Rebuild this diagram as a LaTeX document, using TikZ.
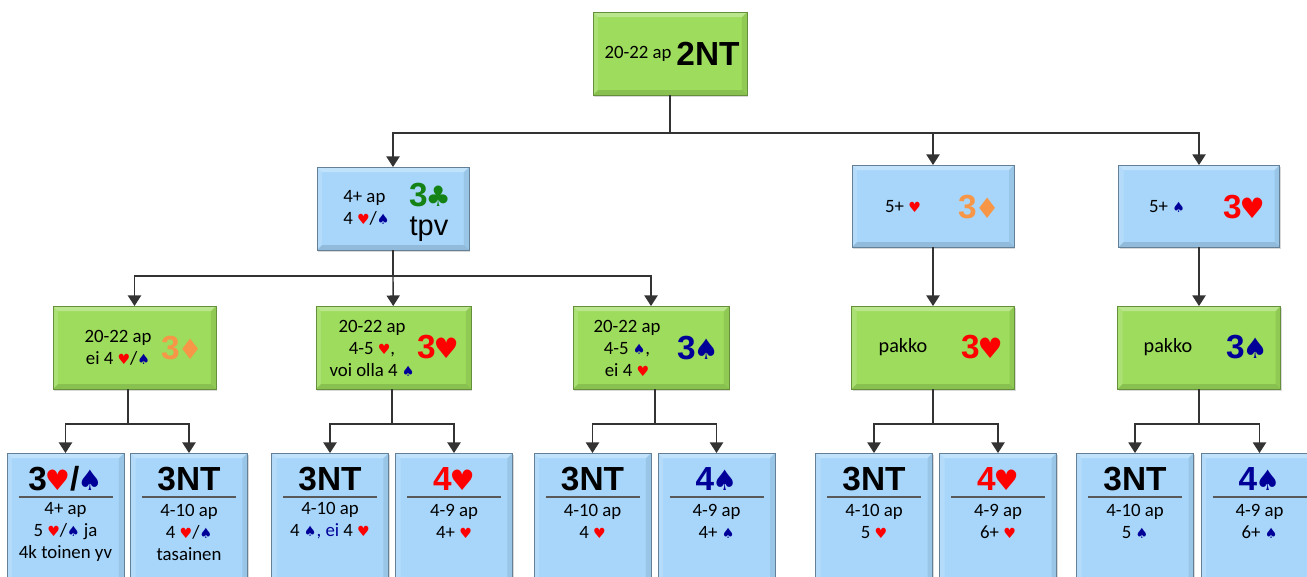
\documentclass[tikz,border=0pt]{standalone}
\usepackage{fontspec}
\setmainfont{Carlito}
\newfontfamily\bidfont{Liberation Sans}
\newfontfamily\suitfont{DejaVu Sans}
\usetikzlibrary{positioning}
\usetikzlibrary{calc}
\usetikzlibrary{shadows}
\usetikzlibrary{arrows.meta}

\definecolor{grn}{RGB}{157,220,92}
\definecolor{blu}{RGB}{167,214,250}
\definecolor{hcol}{RGB}{255,0,0}
\definecolor{scol}{RGB}{0,0,153}
\definecolor{dcol}{RGB}{247,150,70}
\definecolor{ccol}{RGB}{20,130,20}

% small suits in text, big suits in bids
\newcommand{\sH}{{\suitfont\fontsize{8}{8}\selectfont\color{hcol}♥}}
\newcommand{\sS}{{\suitfont\fontsize{8}{8}\selectfont\color{scol}♠}}
\newcommand{\bH}{{\kern-1.2pt\suitfont\fontsize{16}{16}\selectfont\color{hcol}♥}}
\newcommand{\bS}{{\kern-1.2pt\suitfont\fontsize{16}{16}\selectfont\color{scol}♠}}
\newcommand{\bD}{{\kern-1.2pt\suitfont\fontsize{16}{16}\selectfont\color{dcol}♦}}
\newcommand{\bC}{{\kern-1.2pt\suitfont\fontsize{16}{16}\selectfont\color{ccol}♣}}

\tikzset{
  bevel/.style={path picture={
    \fill[white,opacity=.3] (path picture bounding box.north west) -- (path picture bounding box.north east)
      -- ([shift={(-5,5)}]path picture bounding box.north east) -- ([shift={(5,5)}]path picture bounding box.north west) -- cycle;
    \fill[white,opacity=.15] (path picture bounding box.north west) -- (path picture bounding box.south west)
      -- ([shift={(5,-5)}]path picture bounding box.south west) -- ([shift={(5,5)}]path picture bounding box.north west) -- cycle;
    \fill[black,opacity=.08] (path picture bounding box.north east) -- (path picture bounding box.south east)
      -- ([shift={(-5,-5)}]path picture bounding box.south east) -- ([shift={(-5,5)}]path picture bounding box.north east) -- cycle;
    \fill[black,opacity=.12] (path picture bounding box.south west) -- (path picture bounding box.south east)
      -- ([shift={(-5,-5)}]path picture bounding box.south east) -- ([shift={(5,-5)}]path picture bounding box.south west) -- cycle;
  }}
}

\begin{document}
\begin{tikzpicture} [x=0.02cm, y=-0.02cm,
            gbox/.style={rectangle, fill=grn, draw=grn!65!black, line width=0.4pt, inner sep=0pt, outer sep=0pt,
                         drop shadow={shadow xshift=0.8pt, shadow yshift=-1.2pt, opacity=0.3}, bevel},
            bbox/.style={gbox, fill=blu, draw=blu!60!black},
            lbox/.style={bbox, minimum width=2.34cm, minimum height=2.94cm},
            txt/.style={font=\fontsize{10.7}{12.5}\selectfont, align=center, inner sep=0pt},
            bid/.style={font=\bidfont\bfseries\fontsize{19}{19}\selectfont, inner sep=0pt},
            line/.style={draw=black!80, line width=0.8pt},
            arr/.style={line, -{Triangle[width=7.5pt,length=6pt]}},
            rule/.style={draw=black!65, line width=1pt}]

\clip (0,0) rectangle (1307,576);

%2NT
\node (nt2) at (670,53.5) [gbox, minimum width=3.08cm, minimum height=1.66cm] {};
\node (nt2a) at (638,54) [txt] {20-22 ap};
\node (nt2b) at (708,54) [bid] {2NT};

%3C
\node (c3) at (393,208.5) [bbox, minimum width=3.04cm, minimum height=1.66cm] {};
\node (c3a) at (343,207.5) [txt, anchor=west, align=left] {4+ ap\\4 \sH/\sS};
\node (c3b) at (430,195) [bid, text=ccol] {3\bC};
\node (c3c) at (429,229) [font=\bidfont\fontsize{16.5}{16.5}\selectfont, inner sep=0pt] {tpv};

%3D
\node (d3) at (933,206) [bbox, minimum width=3.24cm, minimum height=1.64cm] {};
\node (d3a) at (903,207) [txt] {5+ \sH};
\node (d3b) at (979,207) [bid, text=dcol] {3\bD};

%3H
\node (h3) at (1199,206) [bbox, minimum width=3.22cm, minimum height=1.64cm] {};
\node (h3a) at (1167,207) [txt] {5+ \sS};
\node (h3b) at (1244,207) [bid, text=hcol] {3\bH};

\coordinate (j0) at (670,133);
\draw[line] (nt2) -- (j0);
\draw[arr] (j0) -| (c3);
\draw[arr] (j0) -| (d3);
\draw[arr] (j0) -| (h3);

%G1
\node (g1) at (134.5,347.5) [gbox, minimum width=3.26cm, minimum height=1.66cm] {};
\node (g1a) at (118,347.5) [txt] {20-22 ap\\ei 4 \sH/\sS};
\node (g1b) at (182,348) [bid, text=dcol] {3\bD};

%G2
\node (g2) at (393.5,347.5) [gbox, minimum width=3.1cm, minimum height=1.66cm] {};
\node (g2a) at (372,348) [txt] {20-22 ap\\4-5 \sH,\\voi olla 4 \sS};
\node (g2b) at (438,347) [bid, text=hcol] {3\bH};

%G3
\node (g3) at (651,347.5) [gbox, minimum width=3.12cm, minimum height=1.66cm] {};
\node (g3a) at (627,348) [txt] {20-22 ap\\4-5 \sS,\\ei 4 \sH};
\node (g3b) at (698,348) [bid, text=scol] {3\bS};

%G4
\node (g4) at (933,347.5) [gbox, minimum width=3.26cm, minimum height=1.66cm] {};
\node (g4a) at (903,347) [txt, font=\fontsize{11.5}{13}\selectfont] {pakko};
\node (g4b) at (982,347) [bid, text=hcol] {3\bH};

%G5
\node (g5) at (1199,347.5) [gbox, minimum width=3.26cm, minimum height=1.66cm] {};
\node (g5a) at (1168,347) [txt, font=\fontsize{11.5}{13}\selectfont] {pakko};
\node (g5b) at (1247,347) [bid, text=scol] {3\bS};

\coordinate (j1) at (393,276);
\draw[line] (c3) -- (j1);
\draw[arr] (j1) -| (g1);
\draw[arr] (j1) -- (g2);
\draw[arr] (j1) -| (g3);
\draw[arr] (d3) -- (g4);
\draw[arr] (h3) -- (g5);

%B1
\node (b1) at (65.5,526.5) [lbox] {};
\node (b1a) at (65.5,479) [bid] {3\bH/\bS};
\draw[rule] (b1.north west) ++(11.5,44) -- ++(94,0);
\node (b1b) at (65.5,532) [txt] {4+ ap\\5 \sH/\sS{} ja\\4k toinen yv};

%B2
\node (b2) at (189,526.5) [lbox] {};
\node (b2a) at (189,479) [bid] {3NT};
\draw[rule] (b2.north west) ++(11.5,44) -- ++(94,0);
\node (b2b) at (189,532) [txt] {4-10 ap\\4 \sH/\sS\\tasainen};

%B3
\node (b3) at (330,526.5) [lbox] {};
\node (b3a) at (330,479) [bid] {3NT};
\draw[rule] (b3.north west) ++(11.5,44) -- ++(94,0);
\node (b3b) at (330,521) [txt] {4-10 ap\\4 \sS{\color{scol}, ei} 4 \sH};

%B4
\node (b4) at (454,526.5) [lbox] {};
\node (b4a) at (454,479) [bid, text=hcol] {4\bH};
\draw[rule] (b4.north west) ++(11.5,44) -- ++(94,0);
\node (b4b) at (454,521) [txt] {4-9 ap\\4+ \sH};

%B5
\node (b5) at (592.5,526.5) [lbox] {};
\node (b5a) at (592.5,479) [bid] {3NT};
\draw[rule] (b5.north west) ++(11.5,44) -- ++(94,0);
\node (b5b) at (592.5,521) [txt] {4-10 ap\\4 \sH};

%B6
\node (b6) at (716.5,526.5) [lbox] {};
\node (b6a) at (716.5,479) [bid, text=scol] {4\bS};
\draw[rule] (b6.north west) ++(11.5,44) -- ++(94,0);
\node (b6b) at (716.5,521) [txt] {4-9 ap\\4+ \sS};

%B7
\node (b7) at (874,526.5) [lbox] {};
\node (b7a) at (874,479) [bid] {3NT};
\draw[rule] (b7.north west) ++(11.5,44) -- ++(94,0);
\node (b7b) at (874,521) [txt] {4-10 ap\\5 \sH};

%B8
\node (b8) at (998,526.5) [lbox] {};
\node (b8a) at (998,479) [bid, text=hcol] {4\bH};
\draw[rule] (b8.north west) ++(11.5,44) -- ++(94,0);
\node (b8b) at (998,521) [txt] {4-9 ap\\6+ \sH};

%B9
\node (b9) at (1135,526.5) [lbox] {};
\node (b9a) at (1135,479) [bid] {3NT};
\draw[rule] (b9.north west) ++(11.5,44) -- ++(94,0);
\node (b9b) at (1135,521) [txt] {4-10 ap\\5 \sS};

%B10
\node (b10) at (1259.5,526.5) [lbox] {};
\node (b10a) at (1259.5,479) [bid, text=scol] {4\bS};
\draw[rule] (b10.north west) ++(11.5,44) -- ++(94,0);
\node (b10b) at (1259.5,521) [txt] {4-9 ap\\6+ \sS};

\coordinate (j2) at (128,424);
\draw[line] (g1.south -| j2) -- (j2);
\draw[arr] (j2) -| (b1);
\draw[arr] (j2) -| (b2);

\coordinate (j3) at (392,424);
\draw[line] (g2.south -| j3) -- (j3);
\draw[arr] (j3) -| (b3);
\draw[arr] (j3) -| (b4);

\coordinate (j4) at (655,424);
\draw[line] (g3.south -| j4) -- (j4);
\draw[arr] (j4) -| (b5);
\draw[arr] (j4) -| (b6);

\coordinate (j5) at (933,424);
\draw[line] (g4) -- (j5);
\draw[arr] (j5) -| (b7);
\draw[arr] (j5) -| (b8);

\coordinate (j6) at (1199,424);
\draw[line] (g5) -- (j6);
\draw[arr] (j6) -| (b9);
\draw[arr] (j6) -| (b10);

\end{tikzpicture}
\end{document}
